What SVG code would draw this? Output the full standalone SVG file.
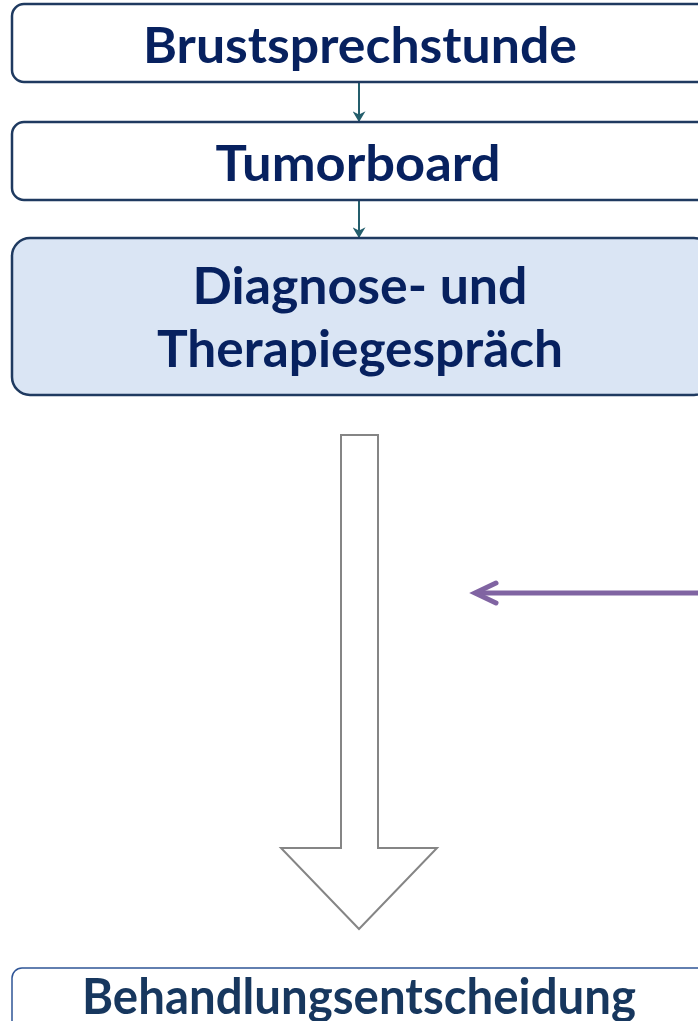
<svg xmlns="http://www.w3.org/2000/svg" width="698" height="1021" viewBox="0 0 698 1021">
<style>
.box{fill:#ffffff;stroke:#1f3a60;stroke-width:2.5}
.lbl{font-family:Lato,"Open Sans",sans-serif;font-weight:bold;fill:#07215f;text-anchor:middle}
.small{stroke:#245e6c;stroke-width:2;fill:none}
</style>
<defs>
<marker id="ah" viewBox="0 0 10 12" refX="9" refY="6" markerWidth="11" markerHeight="13" markerUnits="userSpaceOnUse" orient="auto">
<path d="M0,0 L10,6 L0,12 L3,6 Z" fill="#245e6c"/>
</marker>
</defs>
<rect width="698" height="1021" fill="#ffffff"/>
<g id="connectors">
<line class="small" x1="359" y1="82" x2="359" y2="121" marker-end="url(#ah)"/>
<line class="small" x1="359" y1="200" x2="359" y2="237" marker-end="url(#ah)"/>
<path d="M341,435 L378,435 L378,848 L437,848 L359,929 L281,848 L341,848 Z" fill="#ffffff" stroke="#858585" stroke-width="2"/>
<path d="M698,593 L476,593" stroke="#8064a2" stroke-width="5" fill="none"/>
<path d="M496,583 L475,593 L496,603" stroke="#8064a2" stroke-width="5" fill="none" stroke-linecap="round" stroke-linejoin="miter"/>
</g>
<g id="n1">
<rect class="box" x="12" y="4" width="700" height="78" rx="12"/>
<text class="lbl" x="360" y="63" font-size="50" textLength="434" lengthAdjust="spacingAndGlyphs">Brustsprechstunde</text>
</g>
<g id="n2">
<rect class="box" x="12" y="122" width="700" height="78" rx="12"/>
<text class="lbl" x="358" y="181" font-size="50" textLength="285" lengthAdjust="spacingAndGlyphs">Tumorboard</text>
</g>
<g id="n3">
<rect class="box" x="12" y="238" width="700" height="157" rx="18" style="fill:#dae5f4"/>
<text class="lbl" x="360" y="304" font-size="52" textLength="335" lengthAdjust="spacingAndGlyphs">Diagnose- und</text>
<text class="lbl" x="360" y="367" font-size="52" textLength="406" lengthAdjust="spacingAndGlyphs">Therapiegespräch</text>
</g>
<g id="n4">
<rect x="12" y="968" width="700" height="80" rx="10" fill="#ffffff" stroke="#2f5597" stroke-width="1.5"/>
<text class="lbl" x="359" y="1014" font-size="50" textLength="554" lengthAdjust="spacingAndGlyphs" style="fill:#17375e">Behandlungsentscheidung</text>
</g>
</svg>
